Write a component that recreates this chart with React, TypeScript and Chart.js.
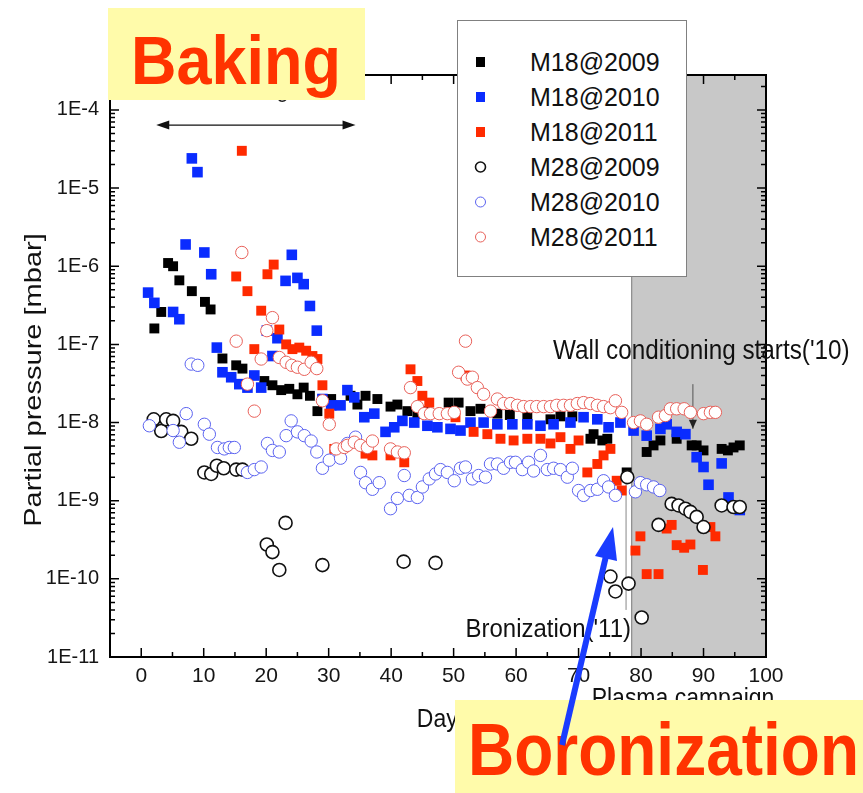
import React, { useEffect, useRef } from "react";
import { Chart, registerables } from "chart.js";

Chart.register(...registerables);

// ---------- axis definitions ----------
const X_MIN = -5;
const X_MAX = 100;
const X_TICKS = [0, 10, 20, 30, 40, 50, 60, 70, 80, 90, 100];
const X_MINOR = [-5, 5, 15, 25, 35, 45, 55, 65, 75, 85, 95];
const Y_MIN = 1e-11;
const Y_MAX = 2.8e-4;
const Y_TICK_EXPONENTS = [-11, -10, -9, -8, -7, -6, -5, -4];
const Y_TICK_LABELS = ["1E-11", "1E-10", "1E-9", "1E-8", "1E-7", "1E-6", "1E-5", "1E-4"];

// ---------- annotation positions (data units) ----------
const PLASMA_START = 78.5;
const WALL_DAY = 88.3;
const WALL_FROM = 3.1e-8;
const WALL_TO = 8.3e-9;
const BORON_DAY = 77.6;
const BORON_FROM = 2.6e-9;
const BORON_TO = 4e-11;
const BAKE_FROM = 2.4;
const BAKE_TO = 34.3;
const BAKE_LEVEL = 6.4e-5;

// ---------- data: [day, pressure mbar] ----------
const M18_2009: [number, number][] = [
  [2.1, 1.6e-7], [3.2, 2.6e-7], [4.3, 1.1e-6], [5.1, 1.0e-6], [6.1, 6.6e-7], [8.1, 4.8e-7],
  [10.2, 3.5e-7], [11.1, 2.8e-7], [13.0, 6.6e-8], [15.2, 5.4e-8], [16.2, 4.9e-8], [19.7, 3.4e-8],
  [21.0, 3.0e-8], [22.4, 2.6e-8], [23.7, 2.7e-8], [25.0, 2.3e-8], [26.0, 2.8e-8], [27.0, 2.2e-8],
  [28.2, 1.4e-8], [30.4, 2.0e-8], [33.5, 2.2e-8], [34.6, 1.7e-8], [35.9, 2.2e-8], [37.8, 2.0e-8],
  [39.9, 1.6e-8], [41.0, 1.7e-8], [42.6, 1.4e-8], [44.2, 1.3e-8], [45.5, 1.4e-8], [49.2, 1.8e-8],
  [50.8, 1.8e-8], [52.7, 1.4e-8], [54.3, 1.5e-8], [57.0, 1.3e-8], [59.0, 1.25e-8], [61.8, 1.2e-8],
  [65.5, 1.1e-8], [67.1, 1.2e-8], [69.0, 1.2e-8], [71.9, 6.2e-9], [72.4, 7.1e-9], [73.8, 5.9e-9],
  [74.6, 6.2e-9], [77.7, 2.3e-9], [80.9, 4.2e-9], [82.0, 5.1e-9], [83.1, 5.9e-9], [85.7, 6.2e-9],
  [88.1, 5.1e-9], [88.9, 5.1e-9], [90.0, 4.4e-9], [92.9, 4.6e-9], [93.9, 4.4e-9], [94.8, 4.8e-9],
  [95.8, 5.1e-9],
];

const M18_2010: [number, number][] = [
  [1.1, 4.6e-7], [2.1, 3.4e-7], [5.1, 2.6e-7], [6.1, 2.1e-7], [7.1, 1.9e-6], [8.1, 2.4e-5],
  [9.0, 1.6e-5], [10.1, 1.5e-6], [11.2, 7.9e-7], [12.1, 9.1e-8], [13.0, 4.4e-8], [14.4, 3.8e-8],
  [15.7, 3.1e-8], [17.0, 2.8e-8], [18.1, 4.0e-8], [19.2, 2.8e-8], [20.1, 1.5e-7], [21.0, 7.1e-8],
  [21.8, 1.2e-7], [23.1, 6.5e-7], [24.1, 1.4e-6], [25.0, 7.1e-7], [26.0, 5.9e-7], [27.0, 3.1e-7],
  [28.1, 1.5e-7], [29.0, 2.0e-8], [30.4, 1.66e-8], [31.9, 1.66e-8], [33.0, 2.6e-8], [34.1, 2.1e-8],
  [35.7, 1.17e-8], [37.3, 1.3e-8], [39.1, 7.6e-9], [40.5, 8.7e-9], [41.8, 1.05e-8], [43.7, 1.0e-8],
  [45.8, 9.1e-9], [47.4, 8.7e-9], [49.5, 8.3e-9], [51.1, 7.9e-9], [52.7, 1.0e-8], [54.8, 1.0e-8],
  [57.0, 9.5e-9], [59.4, 9.5e-9], [61.8, 9.5e-9], [63.9, 9.1e-9], [66.0, 9.5e-9], [68.7, 1.0e-8],
  [70.8, 1.17e-8], [73.0, 1.1e-8], [74.8, 8.7e-9], [76.7, 1.0e-8], [78.8, 7.9e-9], [80.9, 6.8e-9],
  [83.1, 8.3e-9], [84.1, 9.5e-9], [85.7, 7.6e-9], [87.1, 7.1e-9], [88.9, 3.6e-9], [90.0, 2.7e-9],
  [90.8, 1.6e-9], [92.9, 3.0e-9], [94.0, 1.1e-9], [95.8, 7.6e-10],
];

const M18_2011: [number, number][] = [
  [15.2, 7.4e-7], [16.1, 3.0e-5], [17.0, 4.8e-7], [18.1, 8.7e-8], [19.2, 2.7e-7], [20.2, 7.9e-7],
  [21.2, 1.05e-6], [22.1, 1.55e-7], [23.2, 1.0e-7], [24.2, 8.7e-8], [25.3, 9.1e-8], [26.4, 8.3e-8],
  [27.4, 7.1e-8], [28.2, 6.5e-8], [29.0, 3.0e-8], [30.1, 1.3e-8], [30.9, 4.6e-9], [35.9, 4.0e-9],
  [37.0, 3.8e-9], [39.9, 3.8e-9], [42.1, 3.1e-9], [43.1, 4.8e-8], [44.2, 3.4e-8], [45.0, 2.2e-8],
  [46.1, 1.8e-8], [50.3, 1.17e-8], [51.9, 4.0e-8], [53.2, 7.6e-9], [55.4, 7.1e-9], [57.5, 6.2e-9],
  [59.6, 5.9e-9], [61.8, 6.2e-9], [63.9, 6.2e-9], [65.5, 5.4e-9], [67.1, 6.5e-9], [68.7, 4.6e-9],
  [70.0, 5.9e-9], [71.4, 2.3e-9], [73.0, 2.95e-9], [74.0, 3.8e-9], [75.1, 4.6e-9], [76.1, 1.8e-9],
  [76.9, 1.35e-9], [79.1, 2.3e-10], [79.9, 3.5e-10], [80.9, 1.15e-10], [82.8, 1.15e-10],
  [84.1, 4.4e-10], [84.9, 4.9e-10], [85.7, 2.7e-10], [86.9, 2.5e-10], [87.9, 2.75e-10],
  [89.9, 1.3e-10], [91.1, 4.6e-10], [91.9, 3.5e-10],
];

const M28_2009: [number, number][] = [
  [2.0, 1.1e-8], [3.2, 7.8e-9], [4.0, 1.1e-8], [5.1, 1.05e-8], [6.4, 7.6e-9], [8.0, 6.2e-9],
  [10.1, 2.3e-9], [11.2, 2.2e-9], [12.1, 2.8e-9], [13.2, 2.6e-9], [15.2, 2.5e-9], [16.2, 2.5e-9],
  [20.1, 2.75e-10], [21.0, 2.2e-10], [22.1, 1.3e-10], [23.1, 5.2e-10], [29.0, 1.5e-10],
  [42.0, 1.66e-10], [47.1, 1.6e-10], [75.1, 1.07e-10], [75.9, 6.9e-11], [77.8, 2.0e-9],
  [78.0, 8.7e-11], [80.1, 3.2e-11], [82.8, 4.9e-10], [84.9, 9.1e-10], [86.0, 8.7e-10],
  [87.1, 7.9e-10], [87.9, 7.2e-10], [88.9, 6.2e-10], [90.0, 4.6e-10], [92.9, 8.7e-10],
  [94.8, 8.3e-10], [95.8, 8.3e-10],
];

const M28_2010: [number, number][] = [
  [1.3, 9.1e-9], [5.1, 7.9e-9], [6.1, 5.6e-9], [7.2, 1.3e-8], [8.0, 5.6e-8], [9.05, 5.4e-8],
  [10.1, 9.5e-9], [10.9, 7.1e-9], [12.2, 4.8e-9], [13.3, 4.6e-9], [14.1, 4.8e-9], [14.9, 4.8e-9],
  [17.0, 2.3e-9], [18.1, 2.5e-9], [19.2, 2.7e-9], [20.2, 5.4e-9], [21.0, 4.4e-9], [22.1, 4.2e-9],
  [23.2, 6.8e-9], [24.0, 1.05e-8], [25.0, 7.6e-9], [26.1, 6.8e-9], [27.2, 5.8e-9], [28.1, 4.2e-9],
  [29.0, 2.6e-9], [30.1, 3.3e-9], [31.9, 3.5e-9], [33.0, 5.4e-9], [34.3, 6.5e-9], [35.1, 2.3e-9],
  [35.9, 1.7e-9], [37.0, 1.4e-9], [38.1, 1.7e-9], [39.9, 7.9e-10], [41.0, 1.07e-9], [42.1, 2.1e-9],
  [42.9, 1.17e-9], [44.2, 1.1e-9], [45.0, 1.5e-9], [46.1, 1.9e-9], [47.1, 2.2e-9], [47.9, 2.5e-9],
  [49.0, 2.3e-9], [50.1, 1.8e-9], [51.1, 2.6e-9], [51.9, 2.7e-9], [53.0, 1.9e-9], [54.0, 2.1e-9],
  [55.1, 2.0e-9], [55.9, 2.95e-9], [57.0, 2.95e-9], [58.0, 2.6e-9], [59.1, 3.1e-9], [59.9, 3.1e-9],
  [61.0, 2.5e-9], [62.0, 3.1e-9], [62.8, 2.4e-9], [63.9, 3.8e-9], [65.0, 2.5e-9], [66.0, 2.6e-9],
  [67.1, 2.5e-9], [68.2, 2.0e-9], [69.0, 2.6e-9], [70.0, 1.35e-9], [70.8, 1.17e-9], [71.9, 1.35e-9],
  [73.0, 1.4e-9], [74.0, 1.8e-9], [74.8, 1.5e-9], [75.9, 1.17e-9], [79.1, 1.3e-9], [79.9, 1.7e-9],
  [80.9, 1.6e-9], [82.0, 1.5e-9], [83.0, 1.35e-9],
];

const M28_2011: [number, number][] = [
  [15.2, 1.1e-7], [16.1, 1.5e-6], [17.0, 3.1e-8], [18.1, 1.4e-8], [19.2, 6.5e-8], [20.1, 1.5e-7],
  [21.0, 2.2e-7], [22.1, 6.8e-8], [23.2, 5.9e-8], [24.1, 5.4e-8], [25.0, 5.1e-8], [26.1, 4.8e-8],
  [27.2, 5.9e-8], [28.1, 4.9e-8], [29.0, 1.9e-8], [30.1, 9.5e-9], [31.2, 4.6e-9], [32.5, 4.8e-9],
  [33.0, 5.1e-9], [34.1, 5.6e-9], [35.1, 5.1e-9], [36.2, 4.8e-9], [37.0, 5.8e-9], [39.9, 4.6e-9],
  [41.0, 4.2e-9], [42.1, 4.1e-9], [43.1, 2.8e-8], [44.2, 1.6e-8], [45.3, 1.3e-8], [46.3, 1.3e-8],
  [47.7, 1.3e-8], [49.0, 1.3e-8], [50.1, 1.35e-8], [50.8, 4.4e-8], [51.9, 1.1e-7], [52.2, 3.6e-8],
  [53.0, 3.8e-8], [53.8, 2.8e-8], [54.8, 2.3e-8], [55.9, 1.4e-8], [57.0, 2.0e-8], [58.0, 1.75e-8],
  [59.1, 1.75e-8], [60.2, 1.66e-8], [61.2, 1.6e-8], [62.3, 1.6e-8], [63.3, 1.6e-8], [64.4, 1.6e-8],
  [65.5, 1.6e-8], [66.5, 1.66e-8], [67.6, 1.66e-8], [68.7, 1.66e-8], [69.8, 1.75e-8], [70.8, 1.8e-8],
  [71.9, 1.75e-8], [73.0, 1.66e-8], [74.0, 1.6e-8], [75.1, 1.55e-8], [75.9, 1.9e-8], [76.9, 1.35e-8],
  [78.8, 1.0e-8], [79.9, 1.05e-8], [80.9, 9.5e-9], [82.8, 1.17e-8], [83.9, 1.23e-8], [84.7, 1.5e-8],
  [85.7, 1.5e-8], [86.9, 1.5e-8], [87.9, 1.35e-8], [90.0, 1.3e-8], [91.1, 1.35e-8], [91.9, 1.35e-8],
];

const SERIES_NAMES = ["M18@2009", "M18@2010", "M18@2011", "M28@2009", "M28@2010", "M28@2011"];
const SERIES_DATA = [M18_2009, M18_2010, M18_2011, M28_2009, M28_2010, M28_2011];

// ---------- styles ----------
const SANS = "'Liberation Sans', Arial, sans-serif";
const SERIES_STYLE = [
  { pointStyle: "rect", radius: 7, backgroundColor: "#000000", borderColor: "#000000", borderWidth: 0 },
  { pointStyle: "rect", radius: 7.5, backgroundColor: "#0a2cff", borderColor: "#0a2cff", borderWidth: 0 },
  { pointStyle: "rect", radius: 7, backgroundColor: "#ff2a00", borderColor: "#ff2a00", borderWidth: 0 },
  { pointStyle: "circle", radius: 6.5, backgroundColor: "#ffffff", borderColor: "#111111", borderWidth: 1.6 },
  { pointStyle: "circle", radius: 6.2, backgroundColor: "#ffffff", borderColor: "#5b63f0", borderWidth: 1 },
  { pointStyle: "circle", radius: 6.2, backgroundColor: "#ffffff", borderColor: "#e8615a", borderWidth: 1 },
];

function arrowHead(ctx: CanvasRenderingContext2D, x: number, y: number, dx: number, dy: number, len: number, half: number) {
  const l = Math.hypot(dx, dy);
  const ux = dx / l, uy = dy / l;
  const bx = x - ux * len, by = y - uy * len;
  ctx.beginPath();
  ctx.moveTo(x, y);
  ctx.lineTo(bx - uy * half, by + ux * half);
  ctx.lineTo(bx + uy * half, by - ux * half);
  ctx.closePath();
  ctx.fill();
}

const overlayPlugin = {
  id: "overlay",
  beforeDatasetsDraw(chart: any) {
    const { ctx, chartArea: a, scales } = chart;
    const xs = scales.x, ys = scales.y;
    ctx.save();
    // plasma campaign shading
    const gx = xs.getPixelForValue(PLASMA_START);
    ctx.fillStyle = "#c8c8c8";
    ctx.fillRect(gx, a.top, a.right - gx, a.bottom - a.top);
    ctx.strokeStyle = "#8a8a8a";
    ctx.lineWidth = 1.2;
    ctx.beginPath();
    ctx.moveTo(gx, a.top);
    ctx.lineTo(gx, a.bottom);
    ctx.stroke();

    // baking double arrow
    const by = ys.getPixelForValue(BAKE_LEVEL);
    const b1 = xs.getPixelForValue(BAKE_FROM), b2 = xs.getPixelForValue(BAKE_TO);
    ctx.strokeStyle = "#111";
    ctx.fillStyle = "#111";
    ctx.lineWidth = 1.3;
    ctx.beginPath();
    ctx.moveTo(b1 + 6, by);
    ctx.lineTo(b2 - 6, by);
    ctx.stroke();
    arrowHead(ctx, b1, by, -1, 0, 13, 4.5);
    arrowHead(ctx, b2, by, 1, 0, 13, 4.5);

    // wall conditioning marker
    const wx = xs.getPixelForValue(WALL_DAY);
    const w1 = ys.getPixelForValue(WALL_FROM), w2 = ys.getPixelForValue(WALL_TO);
    ctx.strokeStyle = "#555";
    ctx.lineWidth = 1;
    ctx.beginPath();
    ctx.moveTo(wx, w1);
    ctx.lineTo(wx, w2);
    ctx.stroke();
    ctx.fillStyle = "#222";
    arrowHead(ctx, wx, w2, 0, 1, 9, 4);

    // bronization marker
    const rx = xs.getPixelForValue(BORON_DAY);
    ctx.strokeStyle = "#888";
    ctx.beginPath();
    ctx.moveTo(rx, ys.getPixelForValue(BORON_FROM));
    ctx.lineTo(rx, ys.getPixelForValue(BORON_TO));
    ctx.stroke();
    ctx.restore();
  },
  afterDatasetsDraw(chart: any) {
    const { ctx, chartArea: a, scales } = chart;
    const xs = scales.x, ys = scales.y;
    ctx.save();
    ctx.strokeStyle = "#000";
    ctx.lineWidth = 1.5;
    ctx.beginPath();
    const vTick = (v: number, len: number) => {
      const px = xs.getPixelForValue(v);
      ctx.moveTo(px, a.bottom);
      ctx.lineTo(px, a.bottom - len);
      ctx.moveTo(px, a.top);
      ctx.lineTo(px, a.top + len);
    };
    X_TICKS.forEach((v) => vTick(v, 9));
    X_MINOR.forEach((v) => vTick(v, 5));
    const hTick = (v: number, len: number) => {
      const py = ys.getPixelForValue(v);
      ctx.moveTo(a.left, py);
      ctx.lineTo(a.left + len, py);
      ctx.moveTo(a.right, py);
      ctx.lineTo(a.right - len, py);
    };
    Y_TICK_EXPONENTS.forEach((e) => {
      hTick(Math.pow(10, e), 9);
      for (let m = 2; m <= 9; m++) {
        const v = m * Math.pow(10, e);
        if (v <= Y_MAX) hTick(v, 5);
      }
    });
    ctx.stroke();
    ctx.lineWidth = 2;
    ctx.strokeRect(a.left, a.top, a.right - a.left, a.bottom - a.top);
    ctx.restore();
  },
};

export default function App() {
  const ref = useRef<HTMLCanvasElement>(null);

  useEffect(() => {
    if (!ref.current) return;
    const chart = new Chart(ref.current, {
      type: "scatter",
      data: {
        datasets: SERIES_DATA.map((d, i) => ({
          label: SERIES_NAMES[i],
          data: d.map(([x, y]) => ({ x, y })),
          showLine: false,
          order: SERIES_DATA.length - i,
          pointStyle: SERIES_STYLE[i].pointStyle as any,
          pointRadius: SERIES_STYLE[i].radius,
          pointBackgroundColor: SERIES_STYLE[i].backgroundColor,
          pointBorderColor: SERIES_STYLE[i].borderColor,
          pointBorderWidth: SERIES_STYLE[i].borderWidth,
          clip: false as any,
        })),
      },
      options: {
        responsive: false,
        animation: false,
        devicePixelRatio: 1,
        events: [],
        layout: { padding: { left: 0, right: 97, top: 75, bottom: 0 } },
        plugins: { legend: { display: false }, tooltip: { enabled: false } },
        scales: {
          x: {
            type: "linear",
            min: X_MIN,
            max: X_MAX,
            grid: { display: false, drawTicks: false },
            border: { display: false },
            afterBuildTicks: (s: any) => {
              s.ticks = X_TICKS.map((v) => ({ value: v }));
            },
            afterFit: (s: any) => {
              s.height = 136;
            },
            ticks: {
              padding: 7,
              font: { family: SANS, size: 21 },
              color: "#151515",
              maxRotation: 0,
              autoSkip: false,
              callback: (v: any) => String(v),
            },
          },
          y: {
            type: "logarithmic",
            min: Y_MIN,
            max: Y_MAX,
            grid: { display: false, drawTicks: false },
            border: { display: false },
            afterBuildTicks: (s: any) => {
              s.ticks = Y_TICK_EXPONENTS.map((e) => ({ value: Math.pow(10, e) }));
            },
            afterFit: (s: any) => {
              s.width = 110;
            },
            ticks: {
              padding: 11,
              font: { family: SANS, size: 20 },
              color: "#151515",
              autoSkip: false,
              callback: (_v: any, i: number) => Y_TICK_LABELS[i],
            },
          },
        },
      } as any,
      plugins: [overlayPlugin],
    });
    return () => chart.destroy();
  }, []);

  const legendRows = SERIES_NAMES.map((name, i) => {
    const cy = 62 + i * 35;
    const st = SERIES_STYLE[i];
    const marker =
      st.pointStyle === "rect" ? (
        <rect x={476} y={cy - 5} width={9} height={10} fill={st.backgroundColor} />
      ) : (
        <circle cx={480.5} cy={cy} r={5} fill="#fff" stroke={st.borderColor} strokeWidth={st.borderWidth} />
      );
    return (
      <g key={name}>
        {marker}
        <text x={530} y={cy + 9} fontFamily={SANS} fontSize={25} fill="#111">
          {name}
        </text>
      </g>
    );
  });

  return (
    <div style={{ position: "absolute", left: 0, top: 0, width: 863, height: 793, background: "#fff" }}>
      <canvas ref={ref} width={863} height={793} style={{ position: "absolute", left: 0, top: 0, display: "block" }} />
      <svg
        width={863}
        height={793}
        style={{ position: "absolute", left: 0, top: 0, pointerEvents: "none" }}
      >
        {/* original small axis annotation, mostly hidden below the yellow label */}
        <text x={255} y={97} textAnchor="middle" fontFamily={SANS} fontSize={22} fill="#222">
          Baking
        </text>
        <rect x={108} y={8} width={257} height={92} fill="#fffbaa" />
        <text
          transform="translate(236,84) scale(1,1.08)"
          textAnchor="middle"
          fontFamily={SANS}
          fontWeight="bold"
          fontSize={63}
          fill="#ff3300"
        >
          Baking
        </text>

        {/* legend */}
        <rect x={457.5} y={20.5} width={229} height={256} fill="#fff" stroke="#808080" strokeWidth={1} />
        {legendRows}

        {/* axis title y */}
        <text
          transform="translate(41,380) rotate(-90) scale(1.21,1)"
          textAnchor="middle"
          fontFamily={SANS}
          fontSize={24}
          fill="#111"
        >
          Partial pressure [mbar]
        </text>

        {/* annotations */}
        <text transform="translate(553,359) scale(1,1.15)" fontFamily={SANS} fontSize={24.3} fill="#111">
          Wall conditioning starts('10)
        </text>
        <text transform="translate(631,637) scale(1,1.1)" textAnchor="end" fontFamily={SANS} fontSize={24} fill="#111">
          Bronization('11)
        </text>
        <text transform="translate(683,706) scale(1,1.15)" textAnchor="middle" fontFamily={SANS} fontSize={23} fill="#111">
          Plasma campaign
        </text>
        <text transform="translate(443,727) scale(1,1.15)" textAnchor="middle" fontFamily={SANS} fontSize={23} fill="#111">
          Days
        </text>

        {/* boronization label */}
        <rect x={455} y={700} width={408} height={93} fill="#fffbaa" />
        <text
          transform="translate(468,775) scale(1,1.15)"
          fontFamily={SANS}
          fontWeight="bold"
          fontSize={64}
          fill="#ff3300"
        >
          Boronization
        </text>

        {/* blue pointer arrow */}
        <line x1={562} y1={745} x2={606} y2={556} stroke="#1a3cff" strokeWidth={6} />
        <polygon points="613,527 617,561 595,556" fill="#1a3cff" />
      </svg>
    </div>
  );
}
